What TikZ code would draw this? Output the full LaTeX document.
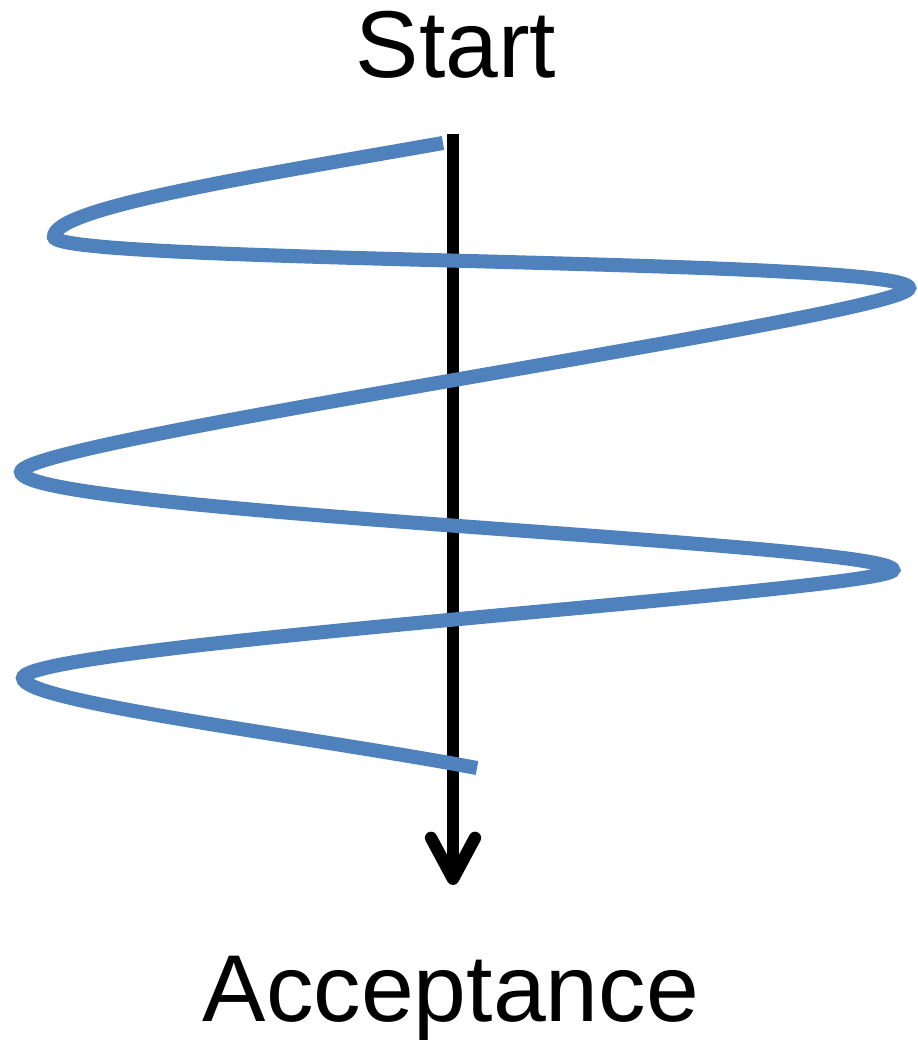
\documentclass[tikz,border=0pt]{standalone}
\usepackage{fontspec}
\setmainfont{Liberation Sans}
\usepackage{tikz}
\usetikzlibrary{arrows.meta}
\definecolor{spiralblue}{HTML}{4F81BD}

\begin{document}
\begin{tikzpicture}[
      x=0.01cm, y=-0.01cm,
      font=\fontsize{27}{32}\selectfont,
      word/.style={inner sep=0pt, anchor=base},
      axe/.style={black, line width=3.5pt, -{Straight Barb[length=4.1mm, width=4.4mm, round]}},
      spiral/.style={spiralblue, line width=4pt}]
    \useasboundingbox (0,0) rectangle (917,1040);
    \node[word] (start) at (456,78) {Start};
    \node[word] (accept) at (451,1021) {Acceptance};
    \coordinate (top) at (453,134);
    \coordinate (tip) at (453,885);
    \draw[axe] (top) -- (tip);
    % spiral: left and right turns alternate
    \draw[spiral] (443,143)
      .. controls (250,177) and (52,208) .. (54,237)
      .. controls (56,264) and (909,258) .. (909,288)
      .. controls (909,315) and (21,440) .. (21,472)
      .. controls (21,512) and (893,543) .. (893,570)
      .. controls (893,590) and (23,645) .. (23,678)
      .. controls (23,702) and (300,735) .. (477,768);
  \end{tikzpicture}
\end{document}
